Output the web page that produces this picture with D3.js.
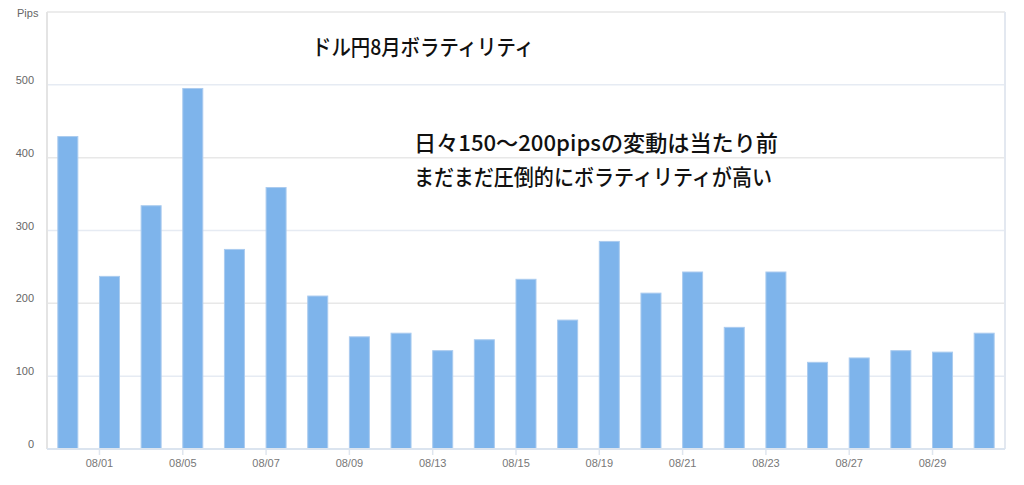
<!DOCTYPE html>
<html><head><meta charset="utf-8">
<script src="https://cdn.jsdelivr.net/npm/d3@7"></script>
<style>
html,body{margin:0;padding:0;background:#fff;}
svg{display:block;}
</style></head>
<body>
<svg id="chart" width="1024" height="485"></svg>
<script>
const dates = ["07/31","08/01","08/02","08/05","08/06","08/07","08/08","08/09","08/12","08/13","08/14","08/15","08/16","08/19","08/20","08/21","08/22","08/23","08/26","08/27","08/28","08/29","08/30"];
const pips = [429,237,334,495,274,359,210,154,159,135,150,233,177,285,214,243,167,243,119,125,135,133,159];
const tickLabels = ["08/01","08/05","08/07","08/09","08/13","08/15","08/19","08/21","08/23","08/27","08/29"];
const yTicks = [0,100,200,300,400,500];
const titleText = "ドル円8月ボラティリティ";
const noteLines = ["日々150～200pipsの変動は当たり前","まだまだ圧倒的にボラティリティが高い"];

const svg = d3.select("#chart");
const L = 47, R = 1005, T = 12, B = 449;
const x = d3.scaleBand().domain(dates).range([L, R]).paddingInner(0.52).paddingOuter(0.26);
const y = d3.scaleLinear().domain([0, 600]).range([B, T]);
const bw = 20;
const font = "'Liberation Sans', Arial, sans-serif";

// gridlines
svg.append("g").selectAll("line").data(yTicks.slice(1)).join("line")
  .attr("x1", L).attr("x2", R).attr("y1", d => y(d)).attr("y2", d => y(d))
  .attr("stroke", d => (d % 200 === 0 ? "#e8e8e8" : "#e6ebf3")).attr("stroke-width", 1.5);
// top border
svg.append("line").attr("x1", L).attr("x2", R).attr("y1", T).attr("y2", T)
  .attr("stroke", "#e6e6e6").attr("stroke-width", 1.5);
// right border
svg.append("line").attr("x1", R).attr("x2", R).attr("y1", T).attr("y2", B)
  .attr("stroke", "#e3e8f0").attr("stroke-width", 2);

// bars
svg.append("g").selectAll("rect").data(dates).join("rect")
  .attr("x", (d) => x(d) + x.bandwidth()/2 - bw/2)
  .attr("width", bw)
  .attr("y", (d, i) => y(pips[i]))
  .attr("height", (d, i) => B - y(pips[i]))
  .attr("fill", "#7eb4eb")
  .attr("stroke", "#aacbef").attr("stroke-width", 1);

// left axis line
svg.append("line").attr("x1", L).attr("x2", L).attr("y1", T).attr("y2", B)
  .attr("stroke", "#e4e4e4").attr("stroke-width", 2);

// y axis labels
const yAxis = d3.axisLeft(y).tickValues(yTicks).tickSize(0).tickPadding(13);
const gy = svg.append("g").attr("transform", `translate(${L},-5)`).call(yAxis);
gy.select(".domain").remove();
gy.selectAll("text").attr("fill", "#666").style("font-size", "11px").style("font-family", font);

svg.append("text").attr("x", 17).attr("y", 17).text("Pips")
  .attr("fill", "#666").style("font-size", "11px").style("font-family", font);

// x axis
const xAxis = d3.axisBottom(x).tickValues(tickLabels).tickSize(6).tickPadding(4);
const gx = svg.append("g").attr("transform", `translate(${-bw/2},${B})`).call(xAxis);
gx.select(".domain").remove();
gx.selectAll(".tick line").attr("stroke", "#dfe6ef").attr("stroke-width", 1.5);
gx.selectAll("text").attr("fill", "#777").style("font-size", "11px").style("font-family", font);
svg.append("line").attr("x1", L).attr("x2", R).attr("y1", B).attr("y2", B)
  .attr("stroke", "#dbe4ef").attr("stroke-width", 2);

// annotations
const jp = "'Noto Sans CJK JP', sans-serif";
svg.append("text").attr("x", 312).attr("y", 55).text(titleText)
  .attr("fill", "#111").style("font-size", "22px").style("font-weight", "500").style("font-family", jp)
  .attr("textLength", 222).attr("lengthAdjust", "spacingAndGlyphs");
svg.append("g").selectAll("text").data(noteLines).join("text")
  .attr("x", 414).attr("y", (d, i) => 151 + i * 34).text(d => d)
  .attr("fill", "#111").style("font-size", "22px").style("font-weight", "500").style("font-family", jp)
  .attr("textLength", (d, i) => i === 0 ? 364 : 358).attr("lengthAdjust", "spacingAndGlyphs");
</script>
</body></html>
